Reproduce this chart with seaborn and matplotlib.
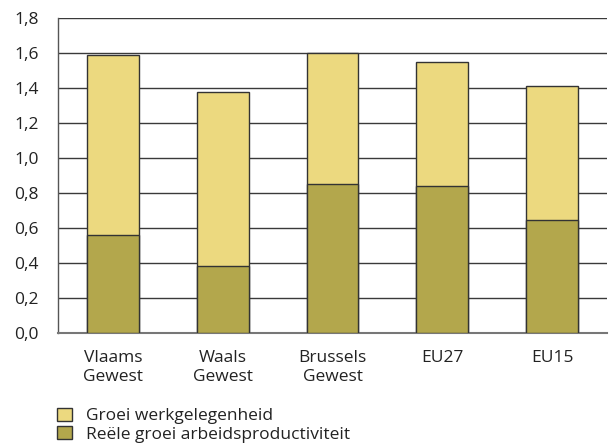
import matplotlib
matplotlib.use("Agg")
import matplotlib.pyplot as plt
import seaborn as sns
import pandas as pd
import numpy as np
from matplotlib.patches import Patch
from matplotlib.ticker import FixedLocator

categories = ["Vlaams\nGewest", "Waals\nGewest", "Brussels\nGewest", "EU27", "EU15"]
productiviteit = [0.56, 0.385, 0.85, 0.84, 0.645]
werkgelegenheid = [1.03, 0.99, 0.75, 0.71, 0.765]
yticks = [0.0, 0.2, 0.4, 0.6, 0.8, 1.0, 1.2, 1.4, 1.6, 1.8]
legend_labels = ["Groei werkgelegenheid", "Reële groei arbeidsproductiviteit"]

c_yellow = "#ecd97f"
c_olive = "#b3a74c"
edge = "#333333"
FS = 12.5

sns.set_style("white")
plt.rcParams["font.family"] = ["Open Sans", "DejaVu Sans"]

df = pd.DataFrame({"cat": categories,
                   "prod": productiviteit,
                   "werk": werkgelegenheid})
df["total"] = df["prod"] + df["werk"]

fig = plt.figure(figsize=(6.12, 4.47), dpi=100)
ax = fig.add_axes([58/612, 1-333/447, (607-58)/612, (333-18)/447])

for y in yticks[1:]:
    ax.axhline(y, color="#3a3a3a", lw=1.0, zorder=0)

sns.barplot(data=df, x="cat", y="total", color=c_yellow, width=0.47,
            edgecolor=edge, linewidth=1.0, saturation=1, ax=ax, zorder=2)
sns.barplot(data=df, x="cat", y="prod", color=c_olive, width=0.47,
            edgecolor=edge, linewidth=1.0, saturation=1, ax=ax, zorder=3)

ax.set_xlim(-0.5, len(categories) - 0.5)
ax.set_ylim(0, 1.8)
ax.set_yticks(yticks)
ax.set_yticklabels([f"{v:.1f}".replace(".", ",") for v in yticks], fontsize=FS, color="#222222")
ax.set_xlabel("")
ax.set_ylabel("")
ax.tick_params(axis="y", length=0, pad=14)
ax.tick_params(axis="x", which="major", length=0, pad=12, labelsize=FS, labelcolor="#222222")
for lab in ax.get_xticklabels():
    lab.set_linespacing(1.3)
ax.xaxis.set_minor_locator(FixedLocator(np.arange(0.5, len(categories), 1.0)))
ax.tick_params(axis="x", which="minor", direction="in", length=6, width=1, color="#555555")

for s in ["top", "right"]:
    ax.spines[s].set_visible(False)
ax.spines["left"].set_color("#555555")
ax.spines["bottom"].set_color("#777777")
ax.spines["left"].set_linewidth(1.0)
ax.spines["bottom"].set_linewidth(1.5)

handles = [Patch(facecolor=c_yellow, edgecolor=edge, linewidth=1.0),
           Patch(facecolor=c_olive, edgecolor=edge, linewidth=1.0)]
fig.legend(handles, legend_labels, loc="upper left",
           bbox_to_anchor=(50/612, 1-401/447), frameon=False,
           fontsize=FS, handlelength=0.86, handleheight=0.75,
           handletextpad=0.8, labelspacing=0.1, borderaxespad=0,
           labelcolor="#222222")

fig.savefig("out.png", dpi=100)
